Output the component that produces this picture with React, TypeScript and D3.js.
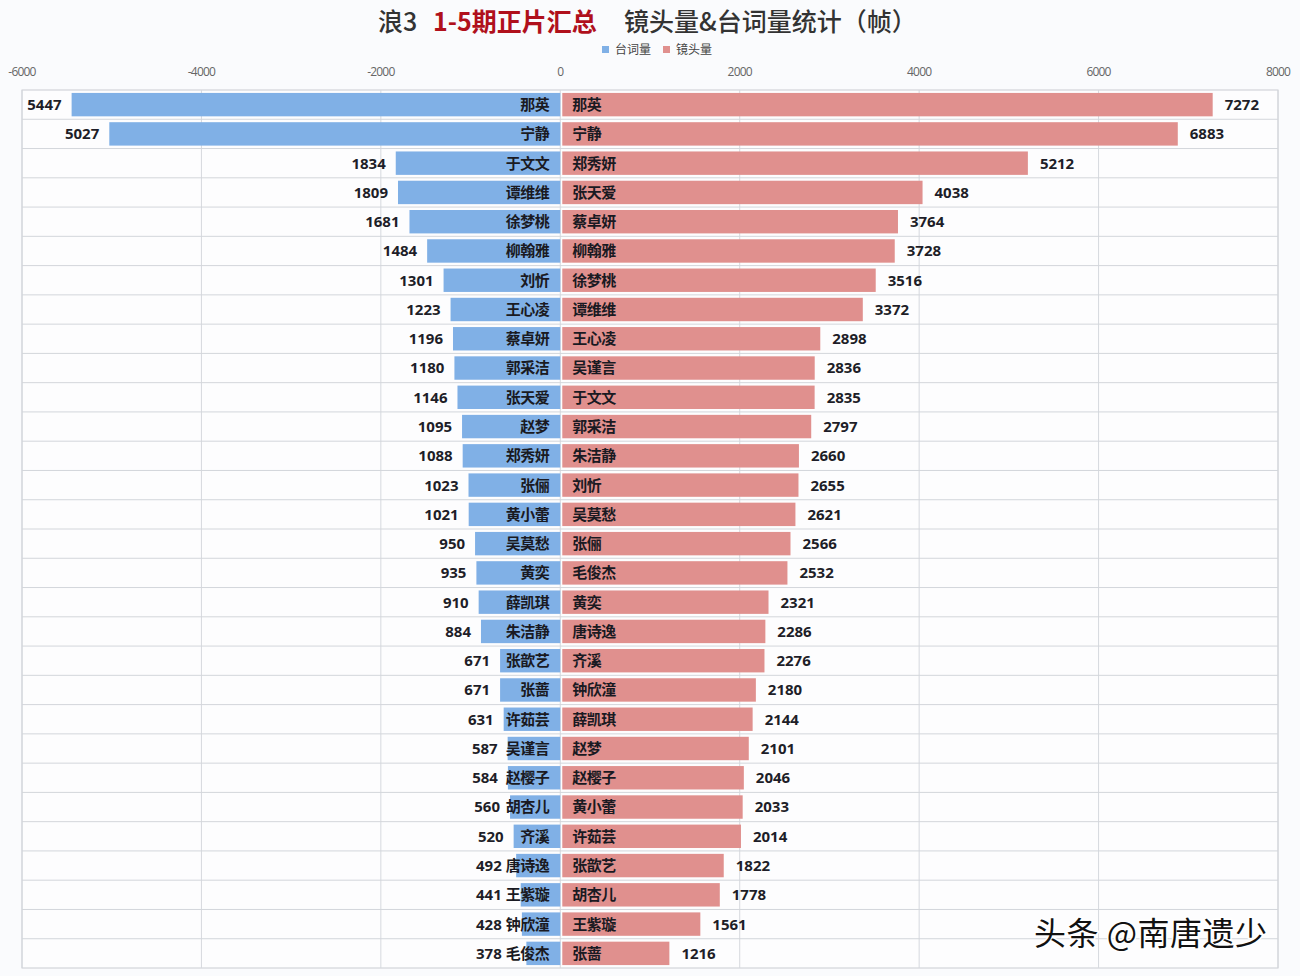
import React from "react";
import * as d3 from "d3";

const leftNames = ["那英","宁静","于文文","谭维维","徐梦桃","柳翰雅","刘忻","王心凌","蔡卓妍","郭采洁","张天爱","赵梦","郑秀妍","张俪","黄小蕾","吴莫愁","黄奕","薛凯琪","朱洁静","张歆艺","张蔷","许茹芸","吴谨言","赵樱子","胡杏儿","齐溪","唐诗逸","王紫璇","钟欣潼","毛俊杰"];
const lineCounts = [5447,5027,1834,1809,1681,1484,1301,1223,1196,1180,1146,1095,1088,1023,1021,950,935,910,884,671,671,631,587,584,560,520,492,441,428,378];
const rightNames = ["那英","宁静","郑秀妍","张天爱","蔡卓妍","柳翰雅","徐梦桃","谭维维","王心凌","吴谨言","于文文","郭采洁","朱洁静","刘忻","吴莫愁","张俪","毛俊杰","黄奕","唐诗逸","齐溪","钟欣潼","薛凯琪","赵梦","赵樱子","黄小蕾","许茹芸","张歆艺","胡杏儿","王紫璇","张蔷"];
const shotCounts = [7272,6883,5212,4038,3764,3728,3516,3372,2898,2836,2835,2797,2660,2655,2621,2566,2532,2321,2286,2276,2180,2144,2101,2046,2033,2014,1822,1778,1561,1216];
const xTicks = [-6000,-4000,-2000,0,2000,4000,6000,8000];

const W = 1300, H = 976;
const left = 22, right = 1278, top = 90, bottom = 968;
const BLUE = "#80b0e6";
const RED = "#e0908e";
const NUM_FONT = "'Open Sans', 'Noto Sans', sans-serif";
const CJK = "'Noto Sans CJK SC', sans-serif";
const NAME_SIZE = 15;
const NAME_LS = -0.5;

export default function App() {
  const x = d3.scaleLinear().domain([-6000, 8000]).range([left, right]);
  const rows = d3.range(lineCounts.length);
  const y = d3.scaleBand<number>().domain(rows).range([top, bottom]).paddingInner(0.2).paddingOuter(0.1);
  const rowY = d3.scaleBand<number>().domain(rows).range([top, bottom]);
  const x0 = x(0);

  return (
    <svg width={W} height={H} style={{ position: "absolute", left: 0, top: 0, background: "#fafbfd" }}>
      <rect x={left} y={top} width={right - left} height={bottom - top} fill="#fdfdfe" stroke="#c9ccd2" strokeWidth={1} />
      {xTicks.map(t => (
        <line key={"v" + t} x1={x(t)} x2={x(t)} y1={top} y2={bottom} stroke="#d6d9de" strokeWidth={1} />
      ))}
      {rows.slice(1).map(i => (
        <line key={"h" + i} x1={left} x2={right} y1={rowY(i)} y2={rowY(i)} stroke="#d3d6db" strokeWidth={1} />
      ))}
      {xTicks.map(t => (
        <text key={"t" + t} x={x(t)} y={76} textAnchor="middle" fontSize={12} fill="#666" fontFamily={NUM_FONT} letterSpacing={-0.8}>
          {t}
        </text>
      ))}
      {rows.map(i => {
        const yy = y(i)!;
        const bh = y.bandwidth();
        const cy = yy + bh / 2;
        const xl = x(-lineCounts[i]);
        const xr = x(shotCounts[i]);
        const nameEnd = x0 - 11;
        const nameW = leftNames[i].length * (NAME_SIZE + NAME_LS);
        const labelEnd = Math.min(xl - 10, nameEnd - nameW - 4);
        return (
          <g key={"r" + i}>
            <rect x={xl} y={yy} width={x0 - xl} height={bh} fill={BLUE} />
            <rect x={x0 + 2} y={yy} width={xr - x0 - 2} height={bh} fill={RED} />
            <text x={labelEnd} y={cy} dy="0.36em" textAnchor="end" fontSize={15} fontWeight={700} fill="#1e1e28" fontFamily={NUM_FONT}>
              {lineCounts[i]}
            </text>
            <text x={xr + 12} y={cy} dy="0.36em" textAnchor="start" fontSize={15} fontWeight={700} fill="#1e1e28" fontFamily={NUM_FONT}>
              {shotCounts[i]}
            </text>
            <text x={nameEnd} y={cy} dy="0.36em" textAnchor="end" fontSize={NAME_SIZE} fontWeight={700} fill="#1a1a22" fontFamily={CJK} letterSpacing={NAME_LS}>
              {leftNames[i]}
            </text>
            <text x={x0 + 12} y={cy} dy="0.36em" textAnchor="start" fontSize={NAME_SIZE} fontWeight={700} fill="#1a1a22" fontFamily={CJK} letterSpacing={NAME_LS}>
              {rightNames[i]}
            </text>
          </g>
        );
      })}
      <text y={31} fontSize={25} fontFamily={CJK} fontWeight={500}>
        <tspan x={378} fill="#333">浪3</tspan>
        <tspan x={433} fill="#b0101c" fontWeight={700}>1-5期正片汇总</tspan>
        <tspan x={624} fill="#333">镜头量&amp;台词量统计（帧）</tspan>
      </text>
      <rect x={602} y={46} width={7} height={7} fill={BLUE} />
      <text x={615} y={54} fontSize={12} fontFamily={CJK} fill="#444">台词量</text>
      <rect x={663} y={46} width={7} height={7} fill={RED} />
      <text x={676} y={54} fontSize={12} fontFamily={CJK} fill="#444">镜头量</text>
      <text x={1034} y={945} fontSize={32} fontFamily={CJK} fill="#111" stroke="#fff" strokeWidth={3} paintOrder="stroke" letterSpacing={0.5}>
        头条 @南唐遗少
      </text>
    </svg>
  );
}
